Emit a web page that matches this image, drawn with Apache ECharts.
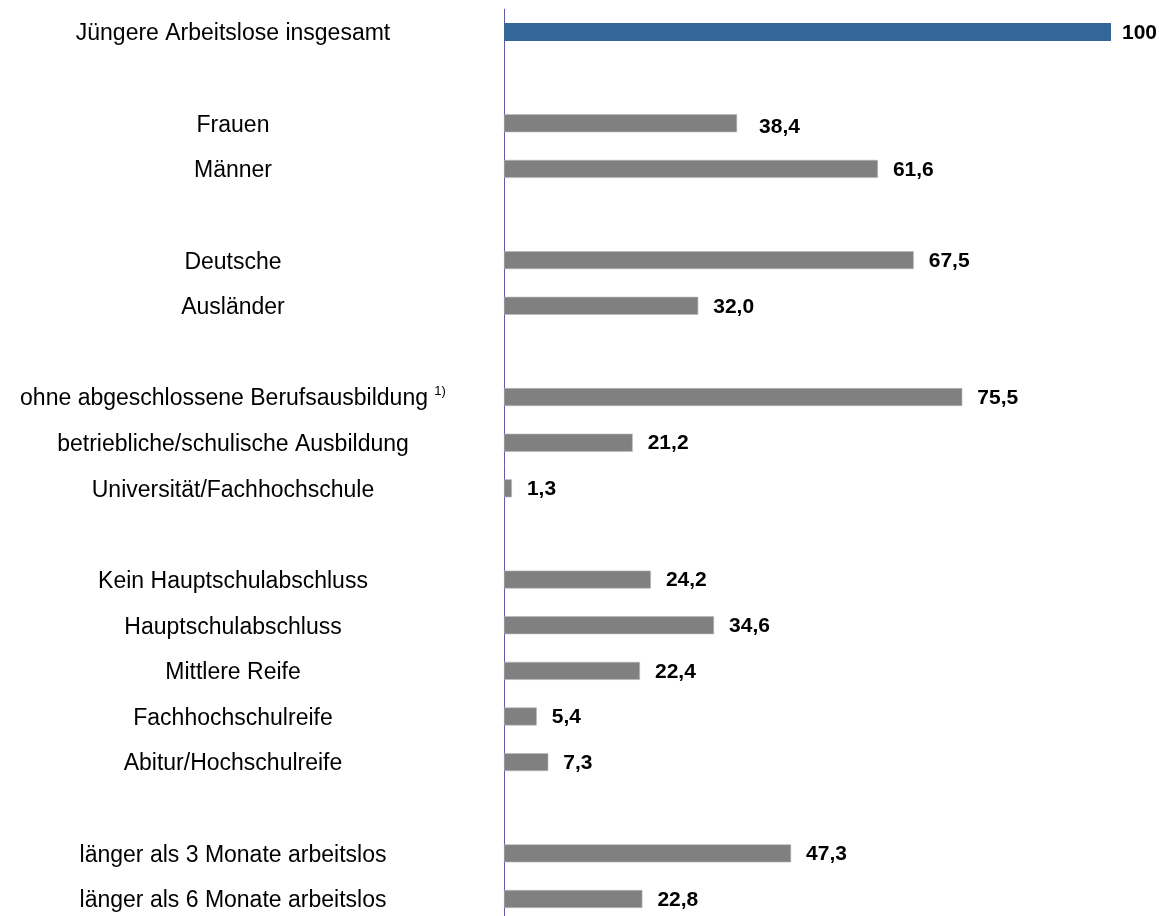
<!DOCTYPE html>
<html>
<head>
<meta charset="utf-8">
<script src="https://cdn.jsdelivr.net/npm/echarts@6/dist/echarts.min.js"></script>
<style>
  html, body { margin: 0; padding: 0; background: #fff; overflow: hidden; }
  #chart { width: 1159px; height: 930px; }
</style>
</head>
<body>
<div id="chart"></div>
<script>
// Kategorien (leere Einträge = Abstand zwischen Gruppen)
var categories = [
  "Jüngere Arbeitslose insgesamt", "",
  "Frauen", "Männer", "",
  "Deutsche", "Ausländer", "",
  "ohne abgeschlossene Berufsausbildung", "betriebliche/schulische Ausbildung", "Universität/Fachhochschule", "",
  "Kein Hauptschulabschluss", "Hauptschulabschluss", "Mittlere Reife", "Fachhochschulreife", "Abitur/Hochschulreife", "",
  "länger als 3 Monate arbeitslos", "länger als 6 Monate arbeitslos"
];
// Anteile in Prozent
var values = [
  100, "-",
  38.4, 61.6, "-",
  67.5, 32.0, "-",
  75.5, 21.2, 1.3, "-",
  24.2, 34.6, 22.4, 5.4, 7.3, "-",
  47.3, 22.8
];
// Fußnote an der Kategorie
var footnoteLabel = "ohne abgeschlossene Berufsausbildung";
var footnoteMark = "1)";

var chart = echarts.init(document.getElementById("chart"));

var fmt = function (v) {
  return v === 100 ? "100" : v.toFixed(1).replace(".", ",");
};

var barData = values.map(function (v, i) {
  if (v === "-") return "-";
  if (i === 0) {
    return { value: v, itemStyle: { color: "#336699", borderWidth: 0 }, label: { distance: 11 } };
  }
  if (i === 2) {
    return { value: v, label: { distance: 22, offset: [0, 4] } };
  }
  return v;
});

var font = "Arial, 'Liberation Sans', sans-serif";

var option = {
  animation: false,
  grid: { left: 504, right: 48, top: 9.2, height: 912.6 },
  xAxis: {
    type: "value",
    min: 0,
    max: 100,
    show: false
  },
  yAxis: {
    type: "category",
    inverse: true,
    data: categories,
    axisLine: { show: true, lineStyle: { color: "#5c5ca8", width: 1 } },
    axisTick: { show: false },
    splitLine: { show: false },
    axisLabel: {
      align: "center",
      margin: 271,
      fontFamily: font,
      fontSize: 23,
      color: "#000",
      interval: 0,
      padding: [4, 0, 0, 0],
      formatter: function (v) {
        return v === footnoteLabel ? v + " {sup|" + footnoteMark + "}" : v;
      },
      rich: {
        sup: { fontSize: 13, verticalAlign: "top", padding: [0, 0, 16, 0], fontFamily: font, color: "#000" }
      }
    }
  },
  series: [{
    type: "bar",
    data: barData,
    barWidth: 18,
    itemStyle: { color: "#808080", borderColor: "#b8b8b8", borderWidth: 0.6 },
    label: {
      show: true,
      position: "right",
      distance: 15,
      offset: [0, 1],
      color: "#000",
      fontWeight: "bold",
      fontSize: 21,
      fontFamily: font,
      formatter: function (p) { return fmt(p.value); }
    }
  }]
};

chart.setOption(option);
</script>
</body>
</html>
